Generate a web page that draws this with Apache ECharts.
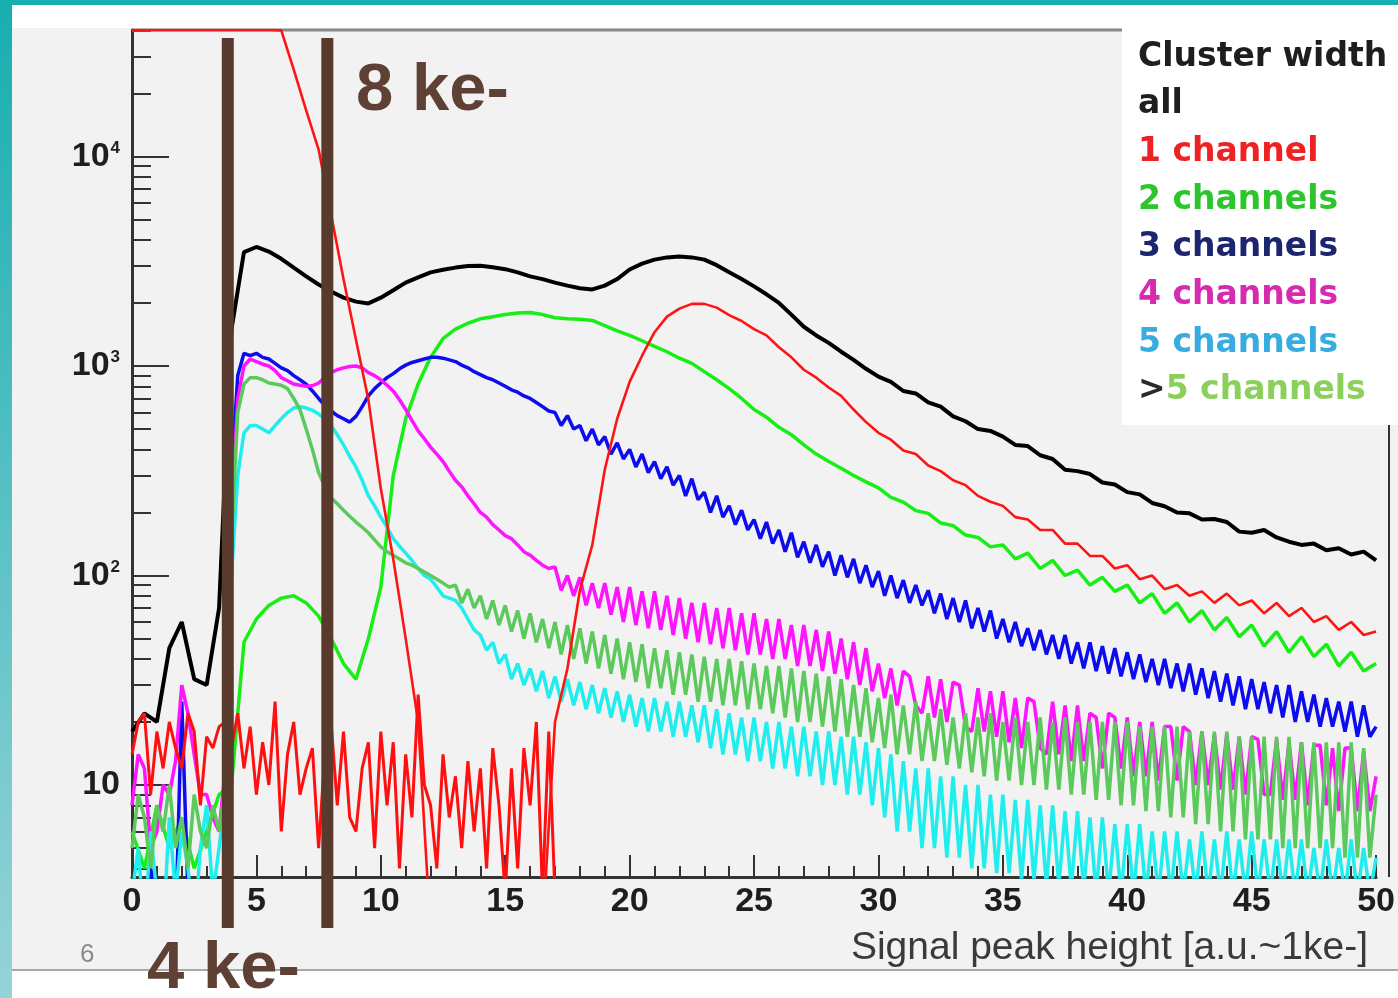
<!DOCTYPE html>
<html>
<head>
<meta charset="utf-8">
<script src="https://cdn.jsdelivr.net/npm/echarts@6/dist/echarts.min.js"></script>
<style>
html, body { margin: 0; padding: 0; background: #f2f2f2; }
#chart { width: 1398px; height: 998px; }
</style>
</head>
<body>
<div id="chart"></div>
<script>
// coarse bin centres (signal peak height, a.u. ~ 1 ke-)
const binX = [
  0, 0.5, 1, 1.5, 2, 2.5, 3, 3.5, 4, 4.5,
  5, 5.5, 6, 6.5, 7, 7.5, 8, 8.5, 9, 9.5,
  10, 10.5, 11, 11.5, 12, 12.5, 13, 13.5, 14, 14.5,
  15, 15.5, 16, 16.5, 17, 17.5, 18, 18.5, 19, 19.5,
  20, 20.5, 21, 21.5, 22, 22.5, 23, 23.5, 24, 24.5,
  25, 25.5, 26, 26.5, 27, 27.5, 28, 28.5, 29, 29.5,
  30, 30.5, 31, 31.5, 32, 32.5, 33, 33.5, 34, 34.5,
  35, 35.5, 36, 36.5, 37, 37.5, 38, 38.5, 39, 39.5,
  40, 40.5, 41, 41.5, 42, 42.5, 43, 43.5, 44, 44.5,
  45, 45.5, 46, 46.5, 47, 47.5, 48, 48.5, 49, 49.5,
  50
];
// fine bin centres for the noisy histograms
const fineX = [
  0, 0.25, 0.5, 0.75, 1, 1.25, 1.5, 1.75, 2, 2.25, 2.5, 2.75, 3, 3.25, 3.5, 3.75,
  4, 4.25, 4.5, 4.75, 5, 5.25, 5.5, 5.75, 6, 6.25, 6.5, 6.75, 7, 7.25, 7.5, 7.75,
  8, 8.25, 8.5, 8.75, 9, 9.25, 9.5, 9.75, 10, 10.25, 10.5, 10.75, 11, 11.25, 11.5, 11.75,
  12, 12.25, 12.5, 12.75, 13, 13.25, 13.5, 13.75, 14, 14.25, 14.5, 14.75, 15, 15.25, 15.5, 15.75,
  16, 16.25, 16.5, 16.75, 17, 17.25, 17.5, 17.75, 18, 18.25, 18.5, 18.75, 19, 19.25, 19.5, 19.75,
  20, 20.25, 20.5, 20.75, 21, 21.25, 21.5, 21.75, 22, 22.25, 22.5, 22.75, 23, 23.25, 23.5, 23.75,
  24, 24.25, 24.5, 24.75, 25, 25.25, 25.5, 25.75, 26, 26.25, 26.5, 26.75, 27, 27.25, 27.5, 27.75,
  28, 28.25, 28.5, 28.75, 29, 29.25, 29.5, 29.75, 30, 30.25, 30.5, 30.75, 31, 31.25, 31.5, 31.75,
  32, 32.25, 32.5, 32.75, 33, 33.25, 33.5, 33.75, 34, 34.25, 34.5, 34.75, 35, 35.25, 35.5, 35.75,
  36, 36.25, 36.5, 36.75, 37, 37.25, 37.5, 37.75, 38, 38.25, 38.5, 38.75, 39, 39.25, 39.5, 39.75,
  40, 40.25, 40.5, 40.75, 41, 41.25, 41.5, 41.75, 42, 42.25, 42.5, 42.75, 43, 43.25, 43.5, 43.75,
  44, 44.25, 44.5, 44.75, 45, 45.25, 45.5, 45.75, 46, 46.25, 46.5, 46.75, 47, 47.25, 47.5, 47.75,
  48, 48.25, 48.5, 48.75, 49, 49.25, 49.5, 49.75, 50
];

// counts per cluster width
const allCounts = [
  18, 22, 20, 45, 60, 32, 30, 70, 1500, 3500,
  3700, 3520, 3250, 2950, 2680, 2450, 2270, 2120, 2030, 1990,
  2120, 2300, 2500, 2650, 2800, 2880, 2950, 3000, 3010, 2960,
  2900, 2800, 2680, 2600, 2500, 2420, 2350, 2320, 2420, 2600,
  2890, 3080, 3220, 3300, 3330, 3300, 3220, 3030, 2800, 2600,
  2400, 2200, 2000, 1760, 1540, 1400, 1290, 1170, 1070, 970,
  890, 840, 760, 740, 670, 640, 575, 545, 500, 490,
  460, 420, 415, 375, 360, 320, 315, 305, 278, 272,
  250, 244, 222, 214, 200, 198, 185, 186, 180, 162,
  160, 165, 152, 145, 140, 142, 132, 135, 126, 130,
  118
];
// 1 channel: overflow (drawn on the frame top) below ~6 ke-
const ch1Counts = [
  40180, 40180, 40180, 40180, 40180, 40180, 40180, 40180, 40180, 40180,
  40180, 40180, 40000, 26000, 16600, 10800, 5300, 2600, 1340, 690,
  260, 120, 50, 20, 2, 2, 2, 2, 2, 2,
  2, 2, 2, 2, 20, 36, 85, 140, 320, 560,
  840, 1120, 1450, 1720, 1880, 1980, 1980, 1900, 1750, 1640,
  1500, 1400, 1230, 1100, 960, 880, 790, 720, 620, 540,
  480, 445, 395, 380, 335, 315, 285, 270, 240, 225,
  215, 190, 185, 165, 165, 142, 142, 124, 124, 108,
  112, 96, 100, 86, 90, 80, 84, 74, 82, 72,
  76, 66, 74, 64, 70, 60, 64, 55, 60, 52,
  54
];
// low-level 1-channel noise, fine bins x = 0 .. 17
const ch1LowCounts = [
  14, 20, 22, 9, 18, 12, 20, 15, 12, 22, 18, 8, 17, 15, 19, 20,
  15, 22, 12, 19, 9, 16, 10, 25, 6, 14, 20, 9, 12, 15, 5, 14,
  20, 8, 18, 7, 6, 12, 16, 5, 18, 8, 16, 4, 14, 7, 27, 10,
  8, 4, 14, 7, 11, 5, 13, 6, 12, 4, 15, 8, 3, 12, 4, 15,
  8, 20, 3, 18, 3
];
const ch2Counts = [
  6, 4, 8, 5, 7, 4, 6, 9, 10, 48,
  62, 72, 78, 80, 74, 64, 50, 38, 32, 50,
  88, 300, 560, 820, 1100, 1350, 1500, 1600, 1680, 1720,
  1760, 1790, 1800, 1760, 1700, 1680, 1670, 1650, 1560, 1470,
  1400, 1320, 1240, 1170, 1090, 1030, 940, 860, 780, 700,
  620, 570, 510, 470, 420, 380, 350, 325, 300, 280,
  262, 236, 224, 204, 198, 178, 173, 156, 152, 137,
  140, 120, 128, 108, 118, 100, 106, 90, 98, 84,
  90, 74, 82, 66, 74, 60, 68, 55, 63, 51,
  58, 46, 54, 43, 51, 41, 47, 37, 43, 35,
  38
];
const ch3Counts = [
  3, 2, 2, 4, 3, 2, 3, 2, 25, 3, 2, 2, 3, 2, 2, 3,
  300, 900, 1150, 1120, 1150, 1100, 1080, 1030, 980, 950, 900, 860, 820, 760, 700, 650,
  610, 580, 560, 540, 575, 640, 720, 780, 830, 880, 920, 970, 1010, 1040, 1060, 1080,
  1100, 1100, 1090, 1070, 1050, 1010, 980, 940, 910, 880, 860, 830, 800, 770, 750, 720,
  700, 670, 640, 610, 600, 520, 580, 500, 520, 440, 500, 420, 460, 380, 430, 360,
  400, 330, 380, 310, 350, 290, 330, 270, 300, 240, 290, 230, 250, 200, 240, 190,
  215, 175, 205, 165, 185, 150, 180, 142, 165, 130, 160, 122, 145, 115, 140, 110,
  130, 100, 125, 98, 120, 92, 112, 88, 105, 80, 100, 78, 95, 74, 90, 72,
  85, 66, 82, 62, 78, 60, 76, 56, 70, 54, 68, 50, 62, 48, 60, 46,
  56, 44, 55, 42, 52, 40, 52, 38, 48, 36, 48, 35, 46, 34, 45, 33,
  43, 32, 42, 31, 40, 30, 40, 29, 38, 28, 38, 27, 36, 26, 35, 25,
  34, 24, 33, 23, 32, 23, 31, 22, 30, 21, 30, 20, 28, 20, 27, 19,
  26, 19, 25, 18, 25, 17, 24, 17, 19
];
const ch4Counts = [
  8, 14, 12, 5, 6, 10, 9, 13, 30, 22, 14, 9, 9, 7, 6, 12,
  200, 700, 1000, 1080, 1050, 1020, 1000, 950, 880, 850, 820, 810, 800, 805, 830, 880,
  930, 960, 980, 995, 1000, 980, 930, 900, 860, 810, 760, 690, 620, 550, 490, 450,
  410, 380, 350, 315, 285, 265, 240, 220, 200, 190, 175, 165, 155, 150, 140, 130,
  125, 118, 112, 108, 110, 85, 100, 80, 98, 72, 92, 70, 92, 65, 88, 60,
  88, 58, 84, 56, 84, 55, 80, 52, 78, 50, 74, 48, 74, 47, 70, 45,
  70, 44, 66, 42, 66, 42, 62, 40, 62, 40, 58, 37, 58, 37, 55, 35,
  54, 34, 50, 32, 48, 30, 45, 28, 38, 26, 36, 24, 35, 33, 24, 22,
  33, 21, 32, 20, 31, 30, 19, 18, 29, 18, 28, 17, 28, 16, 26, 15,
  26, 25, 15, 14, 25, 14, 24, 13, 24, 13, 22, 21, 12, 22, 21, 12,
  21, 11, 20, 11, 20, 10.5, 19, 19, 10.5, 19, 18, 10, 18, 10, 17.5, 9.5,
  17.5, 9.5, 17, 9, 17, 16.5, 9, 9, 16.5, 8.5, 16, 8.5, 16, 8, 15.5, 15.5,
  8, 15, 7.5, 15, 15, 7.5, 14.5, 7.5, 11
];
const ch5Counts = [
  3, 5, 2, 6, 3, 2, 7, 3, 6, 4, 2, 5, 8, 3, 5, 9,
  100, 300, 480, 520, 520, 500, 480, 520, 560, 600, 630, 640, 630, 615, 590, 560,
  520, 470, 420, 370, 330, 285, 240, 215, 190, 170, 150, 138, 128, 118, 108, 100,
  96, 88, 80, 78, 76, 70, 62, 55, 52, 44, 48, 38, 42, 32, 38, 30,
  36, 28, 35, 26, 33, 25, 32, 24, 31, 23, 30, 22, 29, 21, 28, 20,
  27, 19, 26, 18, 26, 18, 25, 17, 25, 17, 24, 16, 24, 15, 23, 14,
  22, 14, 21, 13, 21, 13, 20, 12, 20, 12, 19, 11, 19, 11, 18, 10,
  18, 10, 17, 9, 17, 9, 16, 8, 15, 7, 14, 6, 13, 6, 12, 5,
  12, 5, 11, 4.5, 11, 4.5, 10, 4, 10, 4, 9, 3.8, 9, 3.8, 8.5, 3.5,
  8.5, 3.5, 8, 3.3, 8, 3.3, 7.5, 3.2, 7.5, 3.2, 7, 3, 7, 3, 6.5, 3,
  6.5, 3, 6.5, 3, 6, 3, 6, 3, 6, 3, 5.5, 3, 6, 3, 5.5, 3,
  6, 3, 5.5, 3, 6, 3, 5.5, 3, 5.5, 3, 5.5, 3, 5.5, 3, 5, 3,
  5.5, 3, 5, 3, 5.5, 3, 5, 3, 4.5
];
const ch6Counts = [
  5, 9, 7, 4, 8, 6, 10, 5, 7, 4, 9, 6, 5, 8, 6, 10,
  150, 600, 820, 880, 880, 860, 830, 820, 810, 780, 700, 620, 500, 400, 310, 265,
  235, 220, 205, 192, 180, 170, 160, 148, 137, 130, 125, 120, 115, 112, 108, 104,
  100, 96, 92, 88, 90, 74, 86, 70, 80, 62, 76, 58, 72, 54, 68, 50,
  66, 48, 62, 45, 60, 42, 58, 40, 56, 38, 54, 36, 52, 34, 50, 32,
  48, 31, 47, 29, 45, 29, 44, 27, 43, 27, 42, 25, 41, 25, 40, 24,
  40, 24, 39, 23, 38, 23, 37, 22, 37, 21, 36, 20, 35, 20, 34, 19,
  33, 18, 32, 17, 30, 17, 29, 16, 26, 15, 27, 14, 24, 14, 25, 13,
  22, 13, 23, 12.5, 21, 12, 22, 11.5, 21, 11, 22, 10.5, 20, 10.5, 21, 10,
  20, 10, 21, 9.5, 20, 9.5, 21, 9, 20, 9, 20, 8.5, 20, 8.5, 20, 8,
  20, 8, 19, 7.5, 19, 7.5, 19, 7, 19, 7, 18, 6.5, 18, 6.5, 18, 6,
  18, 6, 17, 5.5, 17, 5.5, 17, 5.5, 17, 5, 17, 5, 16, 5, 16, 5,
  16, 5, 16, 4.5, 16, 4.5, 15, 4.5, 9
];

// axis ranges and ticks
const yMin = 3.638;
const yMax = 40180;
const yMajorTicks = [10, 100, 1000, 10000];
const yMinorTicks = [
  4, 5, 6, 7, 8, 9,
  20, 30, 40, 50, 60, 70, 80, 90,
  200, 300, 400, 500, 600, 700, 800, 900,
  2000, 3000, 4000, 5000, 6000, 7000, 8000, 9000,
  20000, 30000, 40000
];
// charge thresholds marked on the plot (ke-)
const cutLines = [3.85, 7.85];

const legendLines = [
  { text: 'Cluster width', color: '#1e1e1e' },
  { text: 'all', color: '#1e1e1e' },
  { text: '1 channel', color: '#ee2222' },
  { text: '2 channels', color: '#2cc62c' },
  { text: '3 channels', color: '#1c2570' },
  { text: '4 channels', color: '#d62ab0' },
  { text: '5 channels', color: '#36ace0' },
  { text: '{gt|>}5 channels', color: '#8cd05c' }
];

const FONT = '"Liberation Sans", Arial, sans-serif';
const LEGEND_FONT = '"DejaVu Sans", Verdana, sans-serif';

function toPairs(xs, ys) {
  return ys.map((y, i) => [xs[i], y]);
}

function histSeries(name, xs, ys, color, width) {
  return {
    name: name,
    type: 'line',
    data: toPairs(xs, ys),
    symbol: 'none',
    clip: true,
    lineStyle: { color: color, width: width },
    itemStyle: { color: color },
    emphasis: { disabled: true }
  };
}

const chartDom = document.getElementById('chart');
const myChart = echarts.init(chartDom, null, { renderer: 'canvas' });

const option = {
  animation: false,
  backgroundColor: '#f2f2f2',
  grid: { left: 132, right: 9, top: 30, bottom: 121 },
  xAxis: {
    type: 'value',
    min: 0,
    max: 50,
    interval: 5,
    axisLine: { onZero: false, lineStyle: { color: '#333', width: 3 } },
    axisTick: { inside: true, length: 22, lineStyle: { color: '#333', width: 2 } },
    minorTick: { show: true, splitNumber: 5, length: 11, lineStyle: { color: '#333', width: 2 } },
    axisLabel: {
      fontFamily: FONT, fontSize: 34, fontWeight: 'bold', color: '#1e1e1e', margin: 8
    },
    splitLine: { show: false }
  },
  yAxis: [
    {
      type: 'log',
      logBase: 10,
      min: yMin,
      max: yMax,
      axisLine: { show: true, lineStyle: { color: '#333', width: 3 } },
      axisTick: {
        show: true, inside: true, length: 37,
        customValues: yMajorTicks,
        lineStyle: { color: '#333', width: 2 }
      },
      axisLabel: {
        customValues: yMajorTicks,
        fontFamily: FONT, fontSize: 34, fontWeight: 'bold', color: '#1e1e1e', margin: 12,
        formatter: function (v) {
          const e = Math.round(Math.log10(v));
          return e === 1 ? '10' : '10{sup|' + e + '}';
        },
        rich: {
          sup: { fontFamily: FONT, fontSize: 17, fontWeight: 'bold', color: '#1e1e1e', verticalAlign: 'top', padding: [0, 0, 14, 1] }
        }
      },
      splitLine: { show: false }
    },
    {
      type: 'log',
      logBase: 10,
      min: yMin,
      max: yMax,
      position: 'left',
      axisLine: { show: false },
      axisTick: {
        show: true, inside: true, length: 19,
        customValues: yMinorTicks,
        lineStyle: { color: '#333', width: 2 }
      },
      axisLabel: { show: false },
      splitLine: { show: false }
    }
  ],
  series: [
    histSeries('all', binX, allCounts, '#000000', 4),
    histSeries('2 channels', binX, ch2Counts, '#16ee16', 3.5),
    histSeries('3 channels', fineX, ch3Counts, '#0c0cee', 3.5),
    histSeries('4 channels', fineX, ch4Counts, '#ff14ff', 3.5),
    histSeries('5 channels', fineX, ch5Counts, '#20eeee', 3.5),
    histSeries('>5 channels', fineX, ch6Counts, '#5cc95c', 3.5),
    histSeries('1 channel', binX, ch1Counts, '#ff1414', 2.6),
    histSeries('1 channel', fineX, ch1LowCounts, '#ff1010', 3)
  ]
};

myChart.setOption(option);

// decorations that need pixel positions from the axes
const xPix = cutLines.map(v => myChart.convertToPixel({ xAxisIndex: 0 }, v));
const graphics = [
  // slide frame
  { type: 'rect', shape: { x: 12, y: 5, width: 1386, height: 23 }, style: { fill: '#ffffff' }, z: 1 },
  { type: 'rect', shape: { x: 12, y: 971, width: 1386, height: 27 }, style: { fill: '#ffffff' }, z: 1 },
  { type: 'line', shape: { x1: 12, y1: 970, x2: 1398, y2: 970 }, style: { stroke: '#a8a8a8', lineWidth: 2 }, z: 1 },
  {
    type: 'rect', shape: { x: 0, y: 0, width: 12, height: 998 }, z: 2,
    style: {
      fill: new echarts.graphic.LinearGradient(0, 0, 0, 1, [
        { offset: 0, color: '#17aeb0' },
        { offset: 1, color: '#96d3d8' }
      ])
    }
  },
  { type: 'rect', shape: { x: 0, y: 0, width: 1398, height: 5 }, style: { fill: '#17aeb0' }, z: 2 },
  // plot frame (top and right), under the histograms
  { type: 'line', shape: { x1: 132, y1: 30, x2: 1122, y2: 30 }, style: { stroke: '#8a8a8a', lineWidth: 3 }, z: 1 },
  { type: 'line', shape: { x1: 1389, y1: 425, x2: 1389, y2: 877 }, style: { stroke: '#333', lineWidth: 2 }, z: 1 },
  // legend box
  { type: 'rect', shape: { x: 1122, y: 28, width: 276, height: 397 }, style: { fill: '#ffffff' }, z: 50 },
  // page number and axis title
  { type: 'text', x: 80, y: 955, z: 60, style: { text: '6', fontFamily: FONT, fontSize: 26, fill: '#8a8a8a', verticalAlign: 'middle' } },
  {
    type: 'text', x: 1368, y: 948, z: 60,
    style: { text: 'Signal peak height [a.u.~1ke-]', fontFamily: FONT, fontSize: 39, fill: '#3a3a3a', align: 'right', verticalAlign: 'middle' }
  },
  // threshold labels
  { type: 'text', x: 356, y: 92, z: 110, style: { text: '8 ke-', fontFamily: FONT, fontSize: 67, fontWeight: 'bold', fill: '#5e4034', verticalAlign: 'middle' } },
  { type: 'text', x: 147, y: 970, z: 110, style: { text: '4 ke-', fontFamily: FONT, fontSize: 67, fontWeight: 'bold', fill: '#5e4034', verticalAlign: 'middle' } }
];
xPix.forEach(px => {
  graphics.push({ type: 'rect', shape: { x: px - 6, y: 38, width: 12, height: 890 }, style: { fill: '#5b3a2e' }, z: 100 });
});
legendLines.forEach((item, i) => {
  graphics.push({
    type: 'text', x: 1138, y: 57 + i * 47.7, z: 60,
    style: {
      text: item.text, fontFamily: LEGEND_FONT, fontSize: 33, fontWeight: 'bold', fill: item.color, verticalAlign: 'middle',
      rich: { gt: { fontFamily: LEGEND_FONT, fontSize: 33, fontWeight: 'bold', fill: '#2a2a2a' } }
    }
  });
});

myChart.setOption({ graphic: { elements: graphics } });

window.addEventListener('resize', function () {
  myChart.resize();
});
</script>
</body>
</html>
